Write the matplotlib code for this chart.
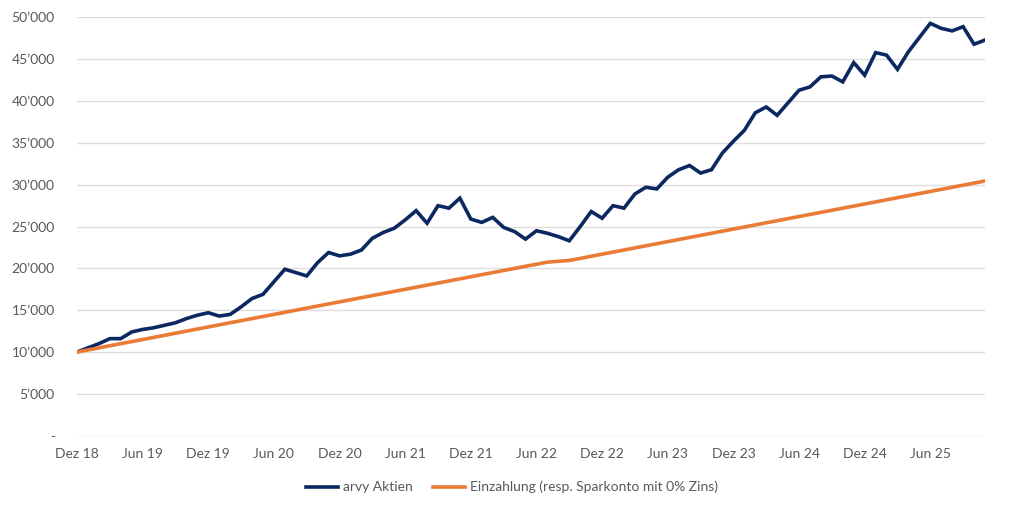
import matplotlib
matplotlib.use("Agg")
import matplotlib.pyplot as plt
from matplotlib.ticker import FuncFormatter

plt.rcParams['font.family'] = ['Lato', 'DejaVu Sans']

# monthly values, Dez 18 .. Nov 25
aktien = [
    10000, 10500, 11000, 11600, 11600, 12400, 12700, 12900, 13200, 13500,
    14000, 14400, 14700, 14300, 14500, 15400, 16400, 16900, 18400, 19900,
    19500, 19100, 20700, 21900, 21500, 21700, 22200, 23600, 24300, 24800,
    25800, 26900, 25400, 27500, 27200, 28400, 25900, 25500, 26100, 24900,
    24400, 23500, 24500, 24200, 23800, 23300, 25000, 26800, 26000, 27500,
    27200, 28900, 29700, 29500, 30900, 31800, 32300, 31400, 31800, 33800,
    35200, 36500, 38600, 39300, 38300, 39800, 41300, 41700, 42900, 43000,
    42300, 44600, 43100, 45800, 45500, 43800, 45900, 47600, 49300, 48700,
    48400, 48900, 46800, 47300,
]
einzahlung = [
    10000, 10250, 10500, 10750, 11000, 11250, 11500, 11750, 12000, 12250,
    12500, 12750, 13000, 13250, 13500, 13750, 14000, 14250, 14500, 14750,
    15000, 15250, 15500, 15750, 16000, 16250, 16500, 16750, 17000, 17250,
    17500, 17750, 18000, 18250, 18500, 18750, 19000, 19250, 19500, 19750,
    20000, 20250, 20500, 20750, 20850, 20950, 21200, 21450, 21700, 21950,
    22200, 22450, 22700, 22950, 23200, 23450, 23700, 23950, 24200, 24450,
    24700, 24950, 25200, 25450, 25700, 25950, 26200, 26450, 26700, 26950,
    27200, 27450, 27700, 27950, 28200, 28450, 28700, 28950, 29200, 29450,
    29700, 29950, 30200, 30450,
]
tick_labels = ['Dez 18', 'Jun 19', 'Dez 19', 'Jun 20', 'Dez 20', 'Jun 21',
               'Dez 21', 'Jun 22', 'Dez 22', 'Jun 23', 'Dez 23', 'Jun 24',
               'Dez 24', 'Jun 25']

months = list(range(len(aktien)))

fig = plt.figure(figsize=(10.24, 5.11), dpi=100)
ax = fig.add_axes([0.0752, 0.1474, 0.8867, 0.8184])

ax.plot(months, aktien, color='#0c2860', lw=2.6, label='arvy Aktien',
        solid_joinstyle='miter')
ax.plot(months, einzahlung, color='#e97b35', lw=2.6,
        label='Einzahlung (resp. Sparkonto mit 0% Zins)')

ax.set_xlim(0, len(months) - 1)
ax.set_ylim(0, 50000)
ax.set_yticks(range(0, 50001, 5000))
ax.yaxis.set_major_formatter(FuncFormatter(
    lambda v, p: '-' if v == 0 else f"{int(v):,}".replace(',', '\u2019')))
ax.set_xticks(range(0, 6 * len(tick_labels), 6))
ax.set_xticklabels(tick_labels)

ax.grid(axis='y', color='#dedede', lw=1)
ax.set_axisbelow(True)
for s in ax.spines.values():
    s.set_visible(False)
ax.tick_params(axis='both', length=0, labelsize=10, colors='#595959')
ax.tick_params(axis='y', pad=16)
ax.tick_params(axis='x', pad=9)

leg = fig.legend(loc='lower center', bbox_to_anchor=(0.5, 0.01), ncol=2,
                 frameon=False, fontsize=10, handlelength=2.3,
                 handletextpad=0.35, columnspacing=1.45)
for t in leg.get_texts():
    t.set_color('#595959')

fig.savefig('out.png', dpi=100)
